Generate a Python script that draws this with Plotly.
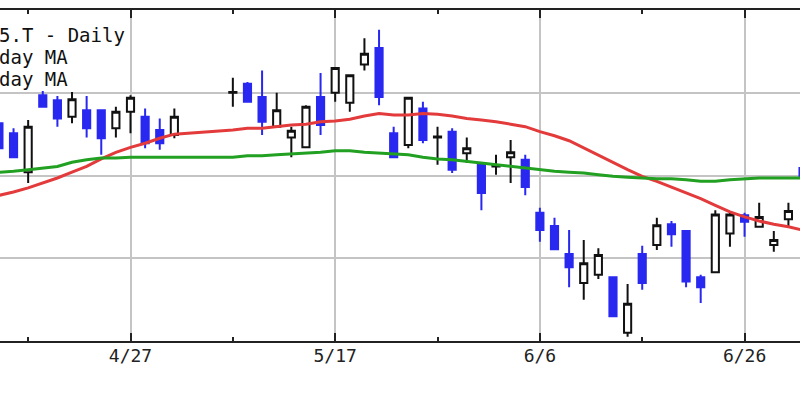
import plotly.graph_objects as go

dates = ["2023-04-14","2023-04-17","2023-04-18","2023-04-19","2023-04-20","2023-04-21","2023-04-24",
         "2023-04-25","2023-04-26","2023-04-27","2023-04-28","2023-05-01","2023-05-02","2023-05-08",
         "2023-05-09","2023-05-10","2023-05-11","2023-05-12","2023-05-15","2023-05-16","2023-05-17",
         "2023-05-18","2023-05-19","2023-05-22","2023-05-23","2023-05-24","2023-05-25","2023-05-26",
         "2023-05-29","2023-05-30","2023-05-31","2023-06-01","2023-06-02","2023-06-05","2023-06-06",
         "2023-06-07","2023-06-08","2023-06-09","2023-06-12","2023-06-13","2023-06-14","2023-06-15",
         "2023-06-16","2023-06-19","2023-06-20","2023-06-21","2023-06-22","2023-06-23","2023-06-26",
         "2023-06-27","2023-06-28","2023-06-29","2023-06-30"]

opens = [2363,2351,2304,2397,2391,2371,2379,2379,2357,2377,2371,2355,2349,
         2400,2411,2395,2359,2346,2334,2395,2400,2388,2434,
         2454,2351,2337,2381,2346,2353,2327,2313,2311,2322,
         2319,2255,2239,2205,2170,2180,2177,2110,2205,2216,
         2241,2233,2177,2183,2230,2252,2238,2216,2247,2309]
highs = [2369,2357,2367,2402,2396,2401,2396,2380,2383,2397,2381,2369,2381,
         2418,2413,2427,2400,2359,2385,2424,2431,2422,2466,
         2476,2359,2395,2389,2359,2357,2346,2315,2325,2343,
         2325,2261,2249,2234,2222,2212,2178,2169,2215,2249,
         2245,2234,2180,2258,2256,2255,2267,2233,2267,2311]
lows = [2331,2321,2291,2382,2359,2363,2346,2325,2346,2351,2333,2331,2345,
        2383,2388,2349,2358,2322,2333,2349,2389,2377,2427,
        2385,2321,2333,2339,2313,2303,2315,2258,2301,2291,
        2276,2220,2210,2165,2150,2175,2129,2105,2162,2210,
        2214,2165,2146,2182,2214,2226,2237,2208,2237,2297]
closes = [2333,2322,2359,2383,2369,2392,2357,2345,2377,2394,2339,2339,2371,
          2401,2389,2365,2379,2354,2383,2361,2430,2421,2447,
          2395,2322,2394,2343,2347,2307,2333,2279,2312,2328,
          2286,2234,2211,2189,2194,2204,2130,2145,2170,2240,
          2229,2172,2165,2253,2253,2244,2250,2222,2257,2299]

ma_short = [2276,2280,2285,2291,2297,2304,2311,2320,2328,2334,2339,2345,2350,
            2355,2357,2357,2359,2361,2362,2365,2366,2368,2372,
            2375,2373,2373,2375,2374,2372,2369,2367,2365,2362,
            2359,2353,2348,2342,2333,2324,2315,2307,2299,2293,
            2286,2279,2272,2264,2256,2250,2245,2241,2238,2234]
ma_long = [2304,2305,2307,2309,2311,2316,2319,2321,2321,2322,2322,2322,2322,
           2322,2324,2324,2325,2326,2327,2328,2330,2330,2328,
           2327,2326,2325,2322,2320,2319,2317,2315,2313,2311,
           2309,2307,2305,2304,2303,2301,2299,2298,2297,2296,
           2296,2295,2293,2293,2295,2296,2297,2297,2297,2297]

tick_dates = ["2023-04-27", "2023-05-17", "2023-06-06", "2023-06-26"]
tick_labels = ["4/27", "5/17", "6/6", "6/26"]
minor_dates = ["2023-04-18", "2023-05-08", "2023-05-26", "2023-06-15"]
legend_lines = ["5.T - Daily", "day MA", "day MA"]

fig = go.Figure()
fig.add_trace(go.Scatter(x=dates, y=ma_short, mode="lines",
                         line=dict(color="#e33b3b", width=3), hoverinfo="skip"))
fig.add_trace(go.Scatter(x=dates, y=ma_long, mode="lines",
                         line=dict(color="#22a022", width=3), hoverinfo="skip"))
fig.add_trace(go.Candlestick(
    x=dates, open=opens, high=highs, low=lows, close=closes,
    increasing=dict(fillcolor="#ffffff", line=dict(color="#111111", width=2)),
    decreasing=dict(fillcolor="#2828f0", line=dict(color="#2828f0", width=2)),
    whiskerwidth=0, hoverinfo="skip"))

mono = "DejaVu Sans Mono"
for i, t in enumerate(legend_lines):
    fig.add_annotation(text=t, xref="paper", yref="paper", x=0, y=1, xanchor="left",
                       yanchor="top", xshift=-3, yshift=-12 - 22 * i, showarrow=False,
                       font=dict(family=mono, size=19, color="#111111"))

fig.update_layout(
    width=800, height=400, showlegend=False, hovermode=False,
    margin=dict(l=0, r=0, t=10, b=59),
    paper_bgcolor="white", plot_bgcolor="white",
    xaxis=dict(
        type="date", range=["2023-04-14 01:47", "2023-06-29 19:00"],
        rangebreaks=[dict(bounds=["sat", "mon"])],
        rangeslider=dict(visible=False),
        tickvals=tick_dates, ticktext=tick_labels,
        ticks="inside", ticklen=8, tickwidth=2, tickcolor="#222222",
        ticklabelstandoff=-3,
        showgrid=True, gridcolor="#c4c4c4", gridwidth=2,
        showline=True, linecolor="#222222", linewidth=2, mirror="ticks",
        tickfont=dict(family=mono, size=18, color="#222222"),
        minor=dict(tickvals=minor_dates, ticks="inside", ticklen=4, tickwidth=2,
                   tickcolor="#222222", showgrid=False),
        fixedrange=True,
    ),
    yaxis=dict(
        range=[2100, 2500], tickvals=[2200, 2300, 2400],
        showticklabels=False, ticks="",
        showgrid=True, gridcolor="#c4c4c4", gridwidth=2,
        zeroline=False, showline=False, fixedrange=True,
    ),
)

fig.write_html("out.html", config={"displayModeBar": False, "staticPlot": True},
               post_script="document.body.style.margin='0';")
